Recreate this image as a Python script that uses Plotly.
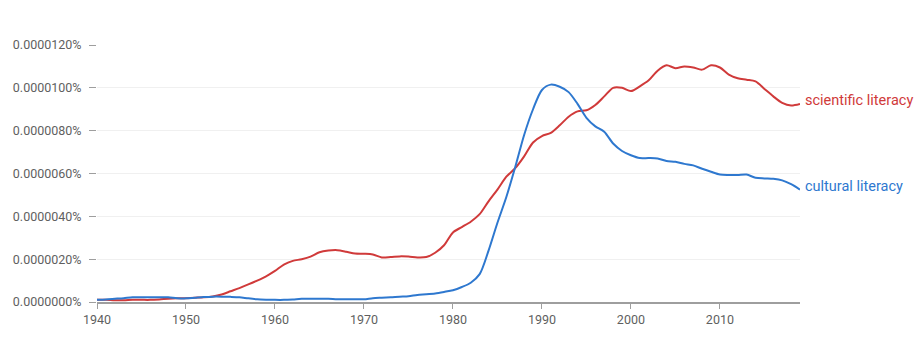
import plotly.graph_objects as go

years = list(range(1940, 2020))

# Frequencies in units of 1e-6 percent
scientific_literacy = [
    0.10, 0.10, 0.08, 0.08, 0.10, 0.10, 0.10, 0.12, 0.15, 0.17,
    0.18, 0.20, 0.22, 0.26, 0.35, 0.50, 0.65, 0.82, 1.00, 1.20,
    1.45, 1.75, 1.92, 2.00, 2.12, 2.32, 2.40, 2.42, 2.35, 2.26,
    2.25, 2.22, 2.08, 2.10, 2.13, 2.12, 2.08, 2.10, 2.30, 2.65,
    3.25, 3.50, 3.75, 4.10, 4.70, 5.25, 5.85, 6.25, 6.80, 7.45,
    7.75, 7.90, 8.25, 8.65, 8.90, 8.95, 9.20, 9.60, 10.00, 10.00,
    9.85, 10.07, 10.35, 10.80, 11.05, 10.92, 11.00, 10.95, 10.85, 11.05,
    10.95, 10.62, 10.45, 10.38, 10.30, 9.95, 9.60, 9.30, 9.18, 9.25,
]
cultural_literacy = [
    0.10, 0.12, 0.15, 0.18, 0.22, 0.22, 0.22, 0.22, 0.22, 0.18,
    0.17, 0.20, 0.23, 0.25, 0.25, 0.24, 0.22, 0.17, 0.13, 0.11,
    0.10, 0.10, 0.12, 0.15, 0.15, 0.15, 0.15, 0.13, 0.13, 0.13,
    0.13, 0.18, 0.20, 0.22, 0.25, 0.27, 0.33, 0.36, 0.40, 0.47,
    0.55, 0.70, 0.90, 1.30, 2.40, 3.70, 4.90, 6.30, 7.80, 9.00,
    9.90, 10.15, 10.05, 9.80, 9.25, 8.60, 8.20, 7.95, 7.40, 7.05,
    6.85, 6.72, 6.72, 6.70, 6.58, 6.55, 6.45, 6.38, 6.22, 6.08,
    5.95, 5.93, 5.93, 5.95, 5.80, 5.77, 5.75, 5.68, 5.50, 5.25,
]

series_names = ["scientific literacy", "cultural literacy"]
series_values = [scientific_literacy, cultural_literacy]
series_colors = ["#d03a3a", "#2e78cf"]

x_ticks = [1940, 1950, 1960, 1970, 1980, 1990, 2000, 2010]
y_ticks = [0, 2, 4, 6, 8, 10, 12]

SCALE = 1e-6
TICK_FONT = dict(family="Roboto", size=12.5, color="#5f5f5f")

fig = go.Figure()
for name, vals, color in zip(series_names, series_values, series_colors):
    yv = [v * SCALE for v in vals]
    fig.add_trace(go.Scatter(
        x=years, y=yv, mode="lines", name=name,
        line=dict(color=color, width=2, shape="spline", smoothing=0.8),
        hoverinfo="skip",
    ))
    fig.add_annotation(
        x=years[-1], y=yv[-1], text=name, showarrow=False,
        xanchor="left", yanchor="middle", xshift=3, yshift=3,
        font=dict(family="Roboto", size=14.5, color=color),
    )

fig.update_layout(
    width=918, height=339,
    margin=dict(l=97, r=118, t=45, b=35),
    paper_bgcolor="white", plot_bgcolor="white",
    showlegend=False,
    font=TICK_FONT,
)
fig.update_xaxes(
    range=[1940, 2019], tickvals=x_ticks, ticktext=[str(t) for t in x_ticks],
    showgrid=False, showline=True, linecolor="#9e9e9e", linewidth=1.5,
    ticks="outside", ticklen=5, tickcolor="#9e9e9e", tickwidth=1,
    zeroline=False, tickfont=TICK_FONT,
)
fig.update_yaxes(
    range=[0, 12 * SCALE], tickvals=[t * SCALE for t in y_ticks],
    ticktext=[f"{t * SCALE:.7f}%" for t in y_ticks],
    showgrid=True, gridcolor="#f0f0f0", gridwidth=1,
    ticks="outside", ticklen=7, tickcolor="#9e9e9e", ticklabelstandoff=5,
    showline=False, zeroline=False, tickfont=TICK_FONT,
)

fig.write_html("out.html")
